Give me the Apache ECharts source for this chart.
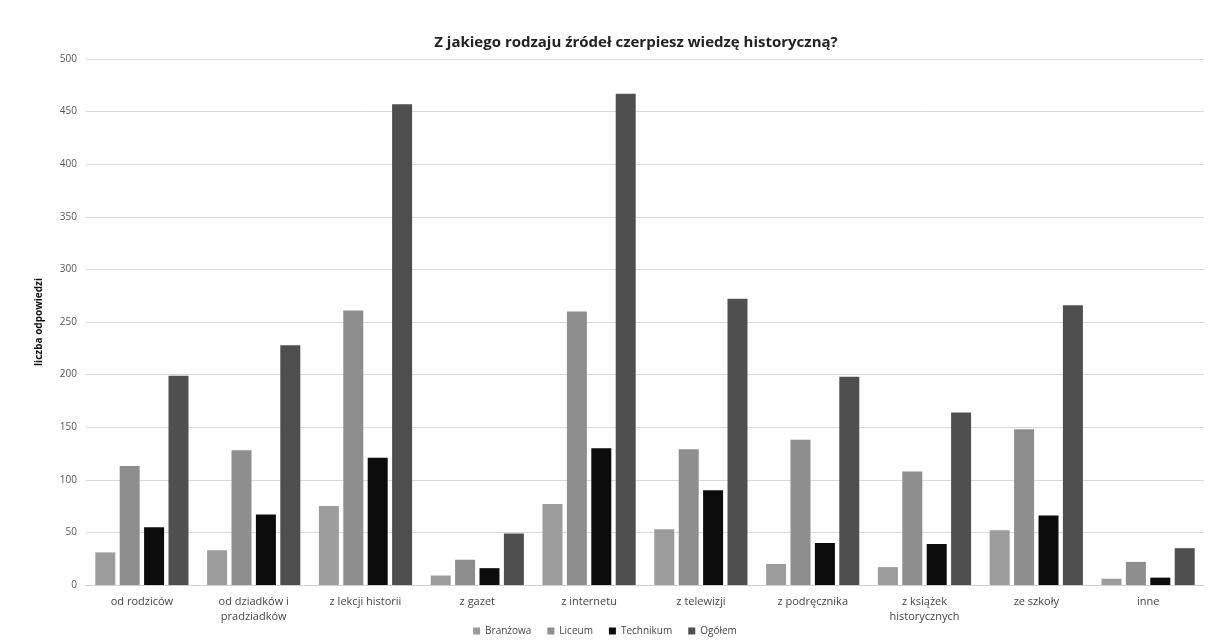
<!DOCTYPE html>
<html>
<head>
<meta charset="utf-8">
<script src="https://cdn.jsdelivr.net/npm/echarts@6/dist/echarts.min.js"></script>
<style>
  html, body { margin: 0; padding: 0; background: #fff; }
  #chart { width: 1210px; height: 643px; }
</style>
</head>
<body>
<div id="chart"></div>
<script>
// categories
const categories = [
  "od rodziców",
  "od dziadków i\npradziadków",
  "z lekcji historii",
  "z gazet",
  "z internetu",
  "z telewizji",
  "z podręcznika",
  "z książek\nhistorycznych",
  "ze szkoły",
  "inne",
];
// values per school type
const branzowa = [31, 33, 75, 9, 77, 53, 20, 17, 52, 6];
const liceum = [113, 128, 261, 24, 260, 129, 138, 108, 148, 22];
const technikum = [55, 67, 121, 16, 130, 90, 40, 39, 66, 7];
const ogolem = [199, 228, 457, 49, 467, 272, 198, 164, 266, 35];

const font = "Open Sans";

const chart = echarts.init(document.getElementById("chart"));
chart.setOption({
  backgroundColor: "#fff",
  animation: false,
  textStyle: { fontFamily: font },
  title: {
    text: "Z jakiego rodzaju źródeł czerpiesz wiedzę historyczną?",
    left: 631,
    textAlign: "center",
    top: 30,
    textStyle: { fontSize: 15, fontWeight: "bold", color: "#222", fontFamily: font },
  },
  legend: {
    bottom: 2,
    left: "center",
    icon: "rect",
    itemWidth: 7,
    itemHeight: 7,
    itemGap: 16,
    textStyle: { fontSize: 10, color: "#444" },
    data: ["Branżowa", "Liceum", "Technikum", "Ogółem"],
  },
  grid: { left: 86, right: 6, top: 59, bottom: 58 },
  xAxis: {
    type: "category",
    data: categories,
    axisTick: { show: false },
    axisLine: { lineStyle: { color: "#cfcfcf" } },
    axisLabel: { interval: 0, color: "#444", fontSize: 11, margin: 9, lineHeight: 15 },
  },
  yAxis: {
    type: "value",
    min: 0,
    max: 500,
    interval: 50,
    name: "liczba odpowiedzi",
    nameLocation: "middle",
    nameRotate: 90,
    nameGap: 42,
    nameTextStyle: { fontSize: 10, color: "#111", fontWeight: "bold" },
    axisLine: { show: false },
    axisTick: { show: false },
    axisLabel: { color: "#555", fontSize: 10, margin: 9 },
    splitLine: { lineStyle: { color: "#d8d8d8", width: 1 } },
  },
  series: [
    { name: "Branżowa", type: "bar", data: branzowa, itemStyle: { color: "#9c9c9c" },
      barWidth: 20, barGap: "22%", barCategoryGap: "16%" },
    { name: "Liceum", type: "bar", data: liceum, itemStyle: { color: "#8e8e8e" }, barWidth: 20 },
    { name: "Technikum", type: "bar", data: technikum, itemStyle: { color: "#0c0c0c" }, barWidth: 20 },
    { name: "Ogółem", type: "bar", data: ogolem, itemStyle: { color: "#4f4f4f" }, barWidth: 20 },
  ],
});
</script>
</body>
</html>
